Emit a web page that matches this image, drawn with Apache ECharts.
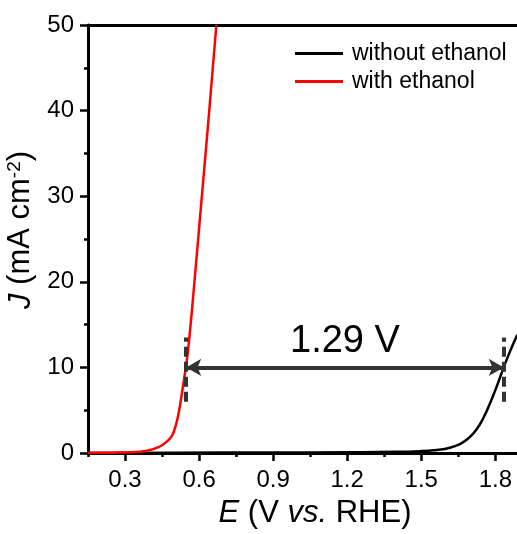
<!DOCTYPE html>
<html><head><meta charset="utf-8">
<script src="https://cdn.jsdelivr.net/npm/echarts@6/dist/echarts.min.js"></script>
<style>html,body{margin:0;padding:0;background:#fff}#c{width:517px;height:534px}</style>
</head><body><div id="c"></div>
<script>
// ---- data ----
const seriesNames = ['without ethanol', 'with ethanol'];
const xBlack = [0.15, 0.5, 0.9, 1.2, 1.4, 1.5, 1.55, 1.6, 1.63, 1.66, 1.69, 1.72, 1.75, 1.78, 1.81, 1.834, 1.86, 1.889];
const jBlack = [0.0, 0.03, 0.06, 0.09, 0.14, 0.22, 0.31, 0.5, 0.75, 1.1, 1.7, 2.6, 4.0, 5.9, 8.1, 10.0, 11.9, 13.8];
const xRed = [0.15, 0.25, 0.32, 0.36, 0.39, 0.41, 0.43, 0.45, 0.47, 0.49, 0.50, 0.51, 0.52, 0.53, 0.54, 0.548, 0.56, 0.58, 0.61, 0.64, 0.67];
const jRed = [0.02, 0.04, 0.08, 0.15, 0.27, 0.42, 0.62, 0.9, 1.35, 2.0, 2.7, 3.7, 5.1, 6.9, 8.8, 10.3, 13.3, 19.6, 29.6, 39.6, 50.0];
const xMajorTicks = [0.3, 0.6, 0.9, 1.2, 1.5, 1.8];
const xMinorTicks = [0.15, 0.45, 0.75, 1.05, 1.35, 1.65];
const xRange = [0.15, 1.9];
const yRange = [0, 50];
const yStep = 10;
const onsetWith = 0.548, onsetWithout = 1.834, jRef = 10;
const dashRange = [6, 13.5];
const gapLabel = '1.29 V';

const FONT = '"Liberation Sans", Arial, sans-serif';
const chart = echarts.init(document.getElementById('c'), null, {renderer: 'canvas'});
const zip = (xs, ys) => xs.map((x, i) => [x, ys[i]]);

chart.setOption({
  animation: false,
  textStyle: {fontFamily: FONT, color: '#000'},
  grid: {left: 88, right: -3, top: 25, bottom: 81, containLabel: false, outerBoundsMode: 'none'},
  legend: {
    data: seriesNames, orient: 'vertical', left: 295, top: 42, padding: 0,
    itemWidth: 48, itemHeight: 3, icon: 'rect', itemGap: 5,
    textStyle: {fontSize: 23, color: '#000', fontFamily: FONT, padding: [0, 0, 0, 4]}
  },
  xAxis: [
    {
      type: 'value', position: 'bottom', min: xRange[0], max: xRange[1],
      axisLine: {lineStyle: {color: '#000', width: 3}},
      axisTick: {show: true, inside: false, length: 8, lineStyle: {width: 2.5, color: '#000'}, customValues: xMajorTicks},
      axisLabel: {fontSize: 24, color: '#000', fontFamily: FONT, margin: 15, customValues: xMajorTicks,
        formatter: v => v.toFixed(1)},
      splitLine: {show: false},
      name: '{it|E} (V {it|vs.} RHE)', nameLocation: 'middle', nameGap: 45,
      nameTextStyle: {fontSize: 31, color: '#000', fontFamily: FONT, padding: [0, 0, 0, 22],
        rich: {it: {fontStyle: 'italic', fontSize: 31, fontFamily: FONT}}}
    },
    {
      type: 'value', position: 'top', min: xRange[0], max: xRange[1],
      axisLine: {lineStyle: {color: '#000', width: 3}},
      axisTick: {show: false}, axisLabel: {show: false}, splitLine: {show: false}
    },
    {
      type: 'value', position: 'bottom', min: xRange[0], max: xRange[1],
      axisLine: {show: false},
      axisTick: {show: true, inside: false, length: 4, lineStyle: {width: 2.5, color: '#000'}, customValues: xMinorTicks},
      axisLabel: {show: false}, splitLine: {show: false}
    }
  ],
  yAxis: {
    type: 'value', min: yRange[0], max: yRange[1], interval: yStep,
    axisLine: {show: true, lineStyle: {color: '#000', width: 3}},
    axisTick: {show: true, inside: false, length: 8, lineStyle: {width: 2.5, color: '#000'}},
    minorTick: {show: true, splitNumber: 2, length: 4, lineStyle: {width: 2.5, color: '#000'}},
    axisLabel: {fontSize: 24, color: '#000', fontFamily: FONT, margin: 14},
    splitLine: {show: false},
    name: '{it|J} (mA cm{sup|-2})', nameLocation: 'middle', nameGap: 43, nameRotate: 90,
    nameTextStyle: {fontSize: 31, color: '#000', fontFamily: FONT, padding: [0, 0, 0, 18],
      rich: {it: {fontStyle: 'italic', fontSize: 31, fontFamily: FONT},
             sup: {fontSize: 19, verticalAlign: 'top', fontFamily: FONT}}}
  },
  series: [
    {
      name: seriesNames[0], type: 'line', data: zip(xBlack, jBlack),
      showSymbol: false, smooth: 0.5, color: '#000',
      lineStyle: {color: '#000', width: 2.5}, z: 3,
      markLine: {
        silent: true, symbol: ['arrow', 'arrow'], symbolSize: [13, 15],
        lineStyle: {color: '#333', width: 4, type: 'solid'},
        label: {show: true, position: 'middle', formatter: gapLabel, fontSize: 38, color: '#000', fontFamily: FONT, distance: 7},
        data: [[{coord: [onsetWith, jRef]}, {coord: [onsetWithout, jRef]}]]
      }
    },
    {
      name: seriesNames[1], type: 'line', data: zip(xRed, jRed),
      showSymbol: false, smooth: 0.5, color: '#ff0000',
      lineStyle: {color: '#ff0000', width: 2.5}, z: 3,
      markLine: {
        silent: true, symbol: ['none', 'none'],
        lineStyle: {color: '#333', width: 4, type: [10, 5]},
        label: {show: false},
        data: [
          [{coord: [onsetWith, dashRange[0]]}, {coord: [onsetWith, dashRange[1]]}],
          [{coord: [onsetWithout, dashRange[0]]}, {coord: [onsetWithout, dashRange[1]]}]
        ]
      }
    }
  ]
});
</script></body></html>
